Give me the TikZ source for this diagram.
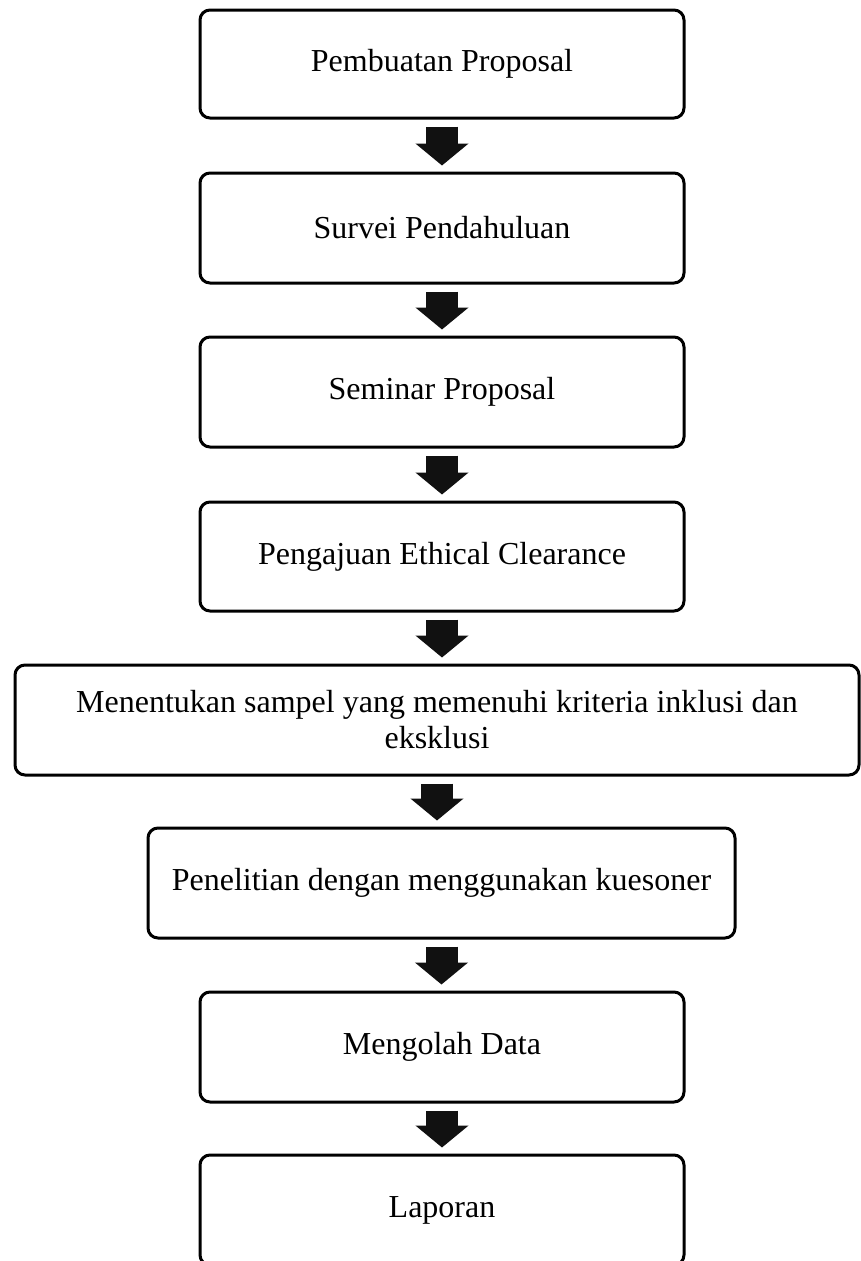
\documentclass[tikz,border=0pt]{standalone}
\usepackage{fontspec}
\setmainfont{Liberation Serif}
\usetikzlibrary{arrows.meta,calc}
\definecolor{arrowblack}{HTML}{111111}
\tikzset{
  stepbox/.style={draw=black, line width=3pt, rounded corners=10pt, fill=white,
    align=center, inner sep=0pt, font=\fontsize{32}{36}\selectfont},
  blockarrow/.style={draw=arrowblack, line width=32pt,
    -{Triangle[width=52pt,length=22pt]}, color=arrowblack}
}
\begin{document}
\begin{tikzpicture}[x=1pt,y=-1pt]
\useasboundingbox (0,0) rectangle (861,1261);
\node[stepbox, minimum width=484pt, minimum height=108pt] (b1) at (442,64) {Pembuatan Proposal};
\node[stepbox, minimum width=484pt, minimum height=110pt] (b2) at (442,228) {Survei Pendahuluan};
\node[stepbox, minimum width=484pt, minimum height=110pt] (b3) at (442,392) {Seminar Proposal};
\node[stepbox, minimum width=484pt, minimum height=109pt] (b4) at (442,556.5) {Pengajuan Ethical Clearance};
\node[stepbox, minimum width=844pt, minimum height=110pt] (b5) at (437,720) {Menentukan sampel yang memenuhi kriteria inklusi dan\\eksklusi};
\node[stepbox, minimum width=587pt, minimum height=110pt] (b6) at (441.5,883) {Penelitian dengan menggunakan kuesoner};
\node[stepbox, minimum width=484pt, minimum height=110pt] (b7) at (442,1047) {Mengolah Data};
\node[stepbox, minimum width=484pt, minimum height=110pt] (b8) at (442,1210) {Laporan};
\foreach \a/\b in {b1/b2,b2/b3,b3/b4,b4/b5,b5/b6,b6/b7,b7/b8}{
  \draw[blockarrow] ([yshift=-7pt]\a.south) -- ([yshift=6pt]\a.south |- \b.north);
}
\end{tikzpicture}
\end{document}
